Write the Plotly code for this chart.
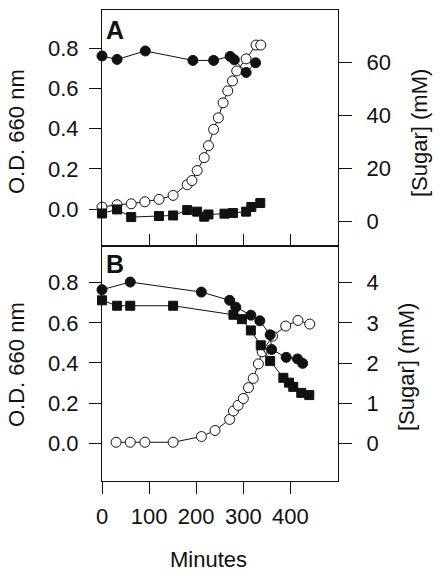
import plotly.graph_objects as go

# ---------------- data ----------------
# Panel A
a_od_circ_t = [0, 32, 92, 193, 237, 272, 281, 306, 326]
a_od_circ = [0.762, 0.745, 0.787, 0.74, 0.74, 0.76, 0.743, 0.68, 0.728]
a_od_sq_t = [0, 32, 62, 121, 151, 181, 202, 217, 226, 260, 278, 306, 317, 336]
a_od_sq = [-0.022, -0.002, -0.04, -0.035, -0.032, -0.005, -0.013, -0.038, -0.027,
           -0.023, -0.02, -0.013, 0.01, 0.03]
a_sugar_t = [0, 32, 62, 91, 121, 151, 181, 191, 202, 217, 226, 237, 247, 257, 267,
             277, 286, 306, 327, 337]
a_sugar = [5.5, 6.4, 6.75, 7.5, 8.4, 9.9, 13.9, 15.5, 19.25, 24.1, 28.6, 34.75, 39.1,
           44.75, 49.25, 53.0, 56.75, 61.3, 66.5, 66.5]

# Panel B
b_od_circ_t = [0, 60, 211, 271, 284, 316, 335, 357, 360, 391, 415, 426]
b_od_circ = [0.765, 0.803, 0.753, 0.712, 0.678, 0.638, 0.61, 0.54, 0.467, 0.428, 0.42, 0.398]
b_od_sq_t = [0, 32, 60, 151, 279, 297, 316, 337, 357, 385, 397, 406, 423, 440]
b_od_sq = [0.712, 0.685, 0.685, 0.685, 0.64, 0.618, 0.562, 0.488, 0.41, 0.326, 0.302,
           0.281, 0.251, 0.24]
b_sugar_t = [30, 60, 91, 151, 211, 240, 271, 279, 289, 300, 311, 321, 332, 340, 362,
             390, 416, 441]
b_sugar = [0.033, 0.033, 0.033, 0.033, 0.175, 0.325, 0.6, 0.81, 0.95, 1.12, 1.39, 1.62,
           1.98, 2.28, 2.67, 2.92, 3.06, 2.97]

x_ticks = [0, 100, 200, 300, 400]
od_ticks = [0.0, 0.2, 0.4, 0.6, 0.8]
a_sugar_ticks = [0, 20, 40, 60]
b_sugar_ticks = [0, 1, 2, 3, 4]

# ---------------- figure ----------------
FONT = "Liberation Sans, Arial, Helvetica, sans-serif"
INK = "#111111"
W, H = 440, 579
PL, PR, PT, PB = 102, 338, 10, 481   # plot box in window pixels
ML, MT = PL, PT
MR = W - PR
MB = H - PB
PW, PH = PR - PL, PB - PT
split = (PB - 246) / PH  # domain boundary between panels

line_style = dict(color=INK, width=1)
filled_circle = dict(symbol="circle", size=10, color=INK, line=dict(color=INK, width=1))
filled_square = dict(symbol="square", size=9, color=INK, line=dict(color=INK, width=1))
open_circle = dict(symbol="circle", size=10, color="white", line=dict(color=INK, width=1))

fig = go.Figure()


def add(x, y, xa, ya, marker):
    fig.add_trace(go.Scatter(x=x, y=y, xaxis=xa, yaxis=ya, mode="lines+markers",
                             line=line_style, marker=marker, cliponaxis=False,
                             showlegend=False, hoverinfo="skip"))


# sugar traces (base axes) first so OD markers sit on top
add(a_sugar_t, a_sugar, "x2", "y", open_circle)
add(b_sugar_t, b_sugar, "x", "y3", open_circle)
add(a_od_circ_t, a_od_circ, "x2", "y2", filled_circle)
add(a_od_sq_t, a_od_sq, "x2", "y2", filled_square)
add(b_od_circ_t, b_od_circ, "x", "y4", filled_circle)
add(b_od_sq_t, b_od_sq, "x", "y4", filled_square)

axis_common = dict(showline=True, linecolor=INK, linewidth=1, showgrid=False,
                   zeroline=False, tickcolor=INK, tickwidth=1, automargin=False,
                   tickfont=dict(family=FONT, size=22, color=INK))

fig.update_layout(
    template="none",
    width=W, height=H,
    margin=dict(l=ML, r=MR, t=MT, b=MB, pad=0, autoexpand=False),
    paper_bgcolor="white", plot_bgcolor="white",
    showlegend=False,
    font=dict(family=FONT, size=22, color=INK),
    xaxis=dict(axis_common, domain=[0, 1], anchor="y3", range=[0, 501],
               tickvals=x_ticks, ticks="outside", ticklen=12, mirror=True,
               ticklabelstandoff=4),
    xaxis2=dict(axis_common, domain=[0, 1], anchor="y", matches="x", range=[0, 501],
                tickvals=x_ticks, ticks="inside", ticklen=12, mirror=True,
                showticklabels=False),
    yaxis=dict(axis_common, domain=[split, 1], anchor="x2", side="right",
               range=[-9.15, 79.7], tickvals=a_sugar_ticks, ticks="outside",
               ticklen=13, ticklabelstandoff=10),
    yaxis2=dict(axis_common, overlaying="y", anchor="x2", side="left",
                range=[-0.184, 0.991], tickvals=od_ticks, tickformat=".1f",
                ticks="outside", ticklen=12, ticklabelstandoff=6),
    yaxis3=dict(axis_common, domain=[0, split], anchor="x", side="right",
                range=[-0.93, 4.91], tickvals=b_sugar_ticks, ticks="outside",
                ticklen=13, ticklabelstandoff=10),
    yaxis4=dict(axis_common, overlaying="y3", anchor="x", side="left",
                range=[-0.188, 0.9826], tickvals=od_ticks, tickformat=".1f",
                ticks="outside", ticklen=12, ticklabelstandoff=6),
)


def px_x(px):
    return (px - PL) / PW


def px_y(py):
    return (PB - py) / PH


ann = [
    dict(text="<b>A</b>", x=px_x(114.5), y=px_y(30), size=25),
    dict(text="<b>B</b>", x=px_x(114.5), y=px_y(264), size=25),
    dict(text="O.D. 660 nm", x=px_x(16), y=px_y(132), size=22, angle=-90),
    dict(text="O.D. 660 nm", x=px_x(16), y=px_y(365), size=22, angle=-90),
    dict(text="[Sugar] (mM)", x=px_x(419), y=px_y(133), size=22, angle=-90),
    dict(text="[Sugar] (mM)", x=px_x(406), y=px_y(367), size=22, angle=-90),
    dict(text="Minutes", x=px_x(208), y=px_y(559), size=22),
]
for a in ann:
    fig.add_annotation(text=a["text"], x=a["x"], y=a["y"], xref="paper", yref="paper",
                       xanchor="center", yanchor="middle", showarrow=False,
                       textangle=a.get("angle", 0), borderpad=0,
                       font=dict(family=FONT, size=a["size"], color=INK))

# remove the browser's default page margin so the figure fills the window exactly
fig.write_html("out.html",
               config={"displayModeBar": False, "staticPlot": True},
               post_script="document.body.style.margin='0';"
                           "document.body.style.padding='0';")
